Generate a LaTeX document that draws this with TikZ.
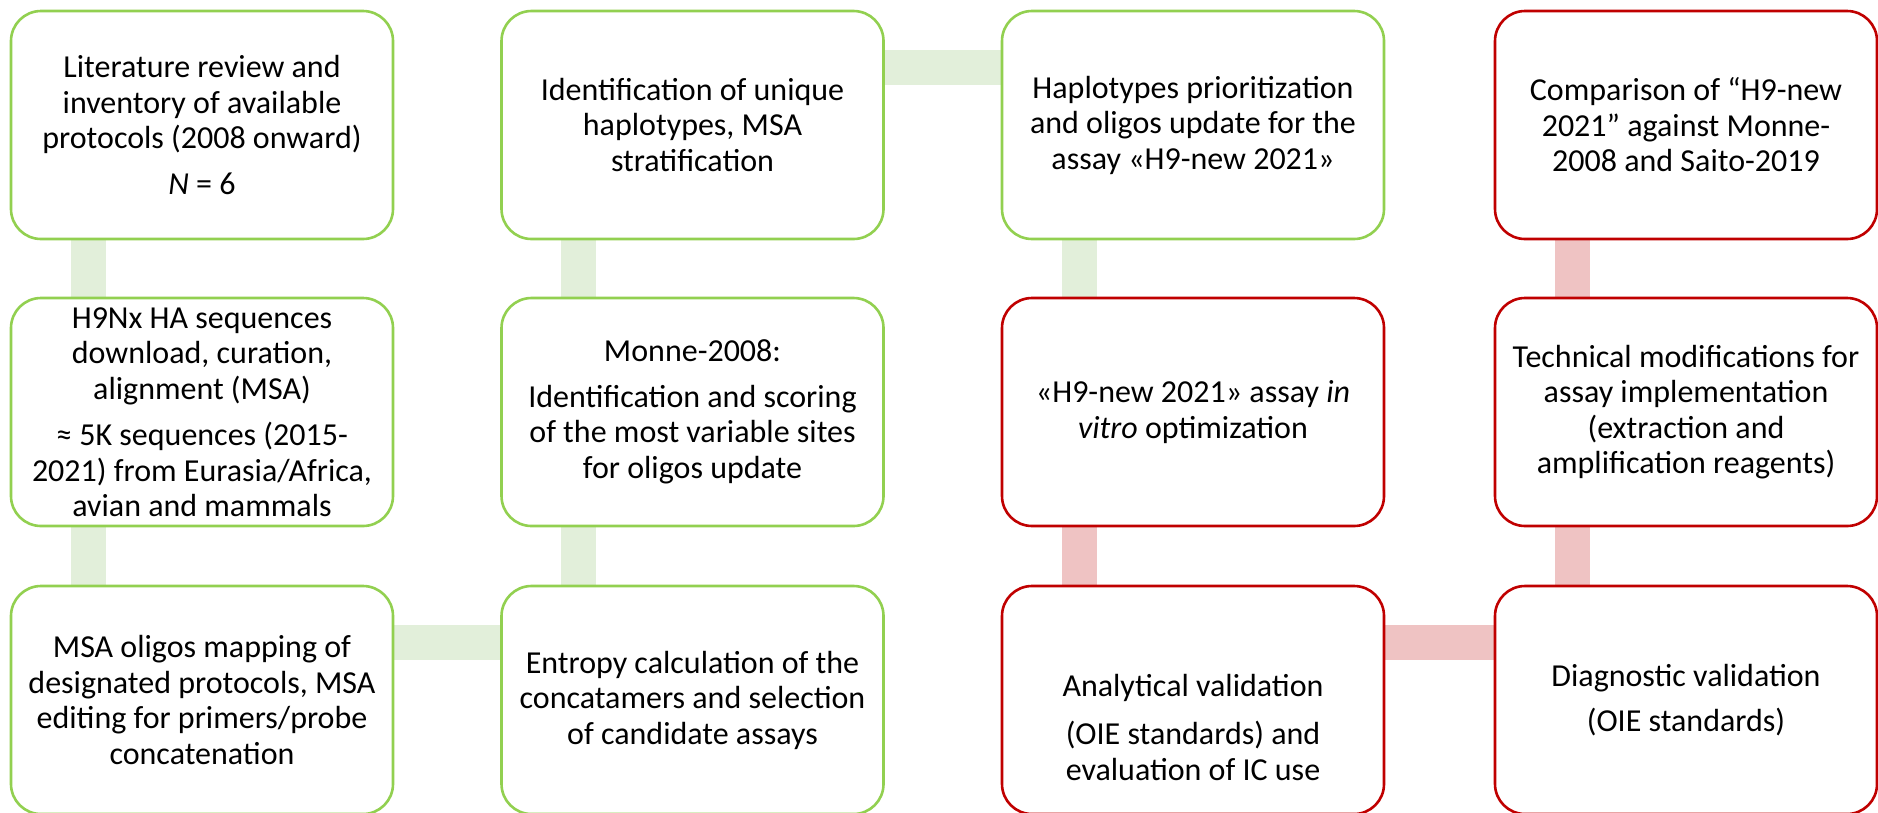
\documentclass[tikz,border=0pt]{standalone}
\usepackage{fontspec}
\setmainfont{Carlito}
\usetikzlibrary{backgrounds}
\definecolor{gborder}{HTML}{92D050}
\definecolor{gconnc}{HTML}{E2EFDA}
\definecolor{rborder}{HTML}{C00000}
\definecolor{rconnc}{HTML}{EFC3C3}
\tikzset{
  stepbox/.style={rectangle, rounded corners=30pt, line width=2.6pt, fill=white,
    minimum width=382pt, minimum height=228pt, align=center, inner sep=4pt,
    font=\fontsize{32}{35.5}\selectfont},
  gbox/.style={stepbox, draw=gborder},
  rbox/.style={stepbox, draw=rborder},
  gconn/.style={draw=gconnc, line width=35pt},
  rconn/.style={draw=rconnc, line width=35pt},
}
\begin{document}
\begin{tikzpicture}[x=1pt,y=-1pt]
\useasboundingbox (0,0) rectangle (1878,812);
% column centres: 202, 692.5, 1193, 1686 ; row centres: 125, 412, 700
\node[gbox] (a1) at (202,125) {Literature review and\\inventory of available\\protocols (2008 onward)\\[10pt]\textit{N} = 6};
\node[gbox] (a2) at (202,412) {H9Nx HA sequences\\download, curation,\\alignment (MSA)\\[11pt]≈ 5K sequences (2015-\\2021) from Eurasia/Africa,\\avian and mammals};
\node[gbox] (a3) at (202,700) {MSA oligos mapping of\\designated protocols, MSA\\editing for primers/probe\\concatenation};
\node[gbox] (b1) at (692.5,125) {Identification of unique\\haplotypes, MSA\\stratification};
\node[gbox] (b2) at (692.5,412) {Monne-2008:\\[10pt]Identification and scoring\\of the most variable sites\\for oligos update};
\node[gbox] (b3) at (692.5,700) {Entropy calculation of the\\concatamers and selection\\of candidate assays};
\node[gbox] (c1) at (1193,125) {Haplotypes prioritization\\and oligos update for the\\assay «H9-new 2021»};
\node[rbox] (c2) at (1193,412) {«H9-new 2021» assay \textit{in}\\\textit{vitro} optimization};
\node[rbox] (c3) at (1193,700) {\mbox{}\\[41pt]Analytical validation\\[13pt](OIE standards) and\\evaluation of IC use};
\node[rbox] (d1) at (1686,125) {Comparison of “H9-new\\2021” against Monne-\\2008 and Saito-2019};
\node[rbox] (d2) at (1686,412) {Technical modifications for\\assay implementation\\(extraction and\\amplification reagents)};
\node[rbox] (d3) at (1686,700) {Diagnostic validation\\[10pt](OIE standards)};
\begin{scope}[on background layer]
\draw[gconn] ([xshift=78.5pt]a1.south west) -- ([xshift=78.5pt]a2.north west);
\draw[gconn] ([xshift=78.5pt]a2.south west) -- ([xshift=78.5pt]a3.north west);
\draw[gconn] ([yshift=-57.5pt]a3.north east) -- ([yshift=-57.5pt]b3.north west);
\draw[gconn] ([xshift=78.5pt]b3.north west) -- ([xshift=78.5pt]b2.south west);
\draw[gconn] ([xshift=78.5pt]b2.north west) -- ([xshift=78.5pt]b1.south west);
\draw[gconn] ([yshift=-57.5pt]b1.north east) -- ([yshift=-57.5pt]c1.north west);
\draw[gconn] ([xshift=78.5pt]c1.south west) -- ([xshift=78.5pt]c2.north west);
\draw[rconn] ([xshift=78.5pt]c2.south west) -- ([xshift=78.5pt]c3.north west);
\draw[rconn] ([yshift=-57.5pt]c3.north east) -- ([yshift=-57.5pt]d3.north west);
\draw[rconn] ([xshift=78.5pt]d3.north west) -- ([xshift=78.5pt]d2.south west);
\draw[rconn] ([xshift=78.5pt]d2.north west) -- ([xshift=78.5pt]d1.south west);
\end{scope}
\end{tikzpicture}
\end{document}
